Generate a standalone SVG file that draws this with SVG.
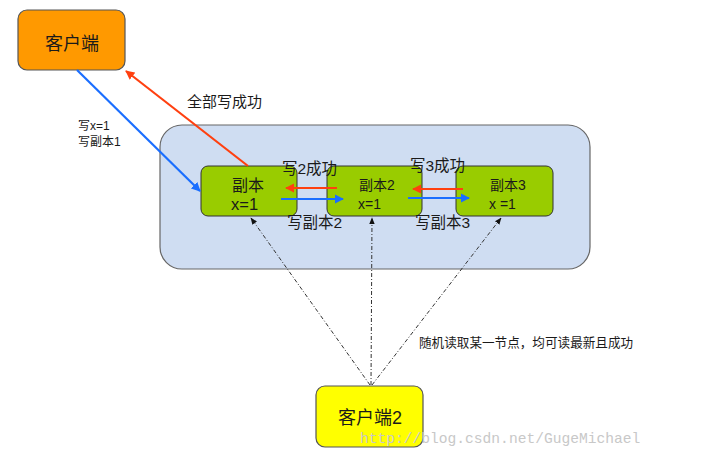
<svg xmlns="http://www.w3.org/2000/svg" width="703" height="463" viewBox="0 0 703 463">
<style>
text{font-family:"Liberation Sans","Noto Sans CJK SC",sans-serif;fill:#1a1a1a}
.node{stroke:#555;stroke-width:1.2}
.rep{fill:#99CC00;stroke:#333;stroke-width:1}
.blue{stroke:#1A6EFF;stroke-width:2.2;fill:none}
.red{stroke:#FF4010;stroke-width:2.2;fill:none}
.dd{stroke:#333;stroke-width:1;stroke-dasharray:4 2 1 2;fill:none}
.wm{font-family:"Liberation Mono",monospace;fill:#c8c8c8}
</style>
<defs>
<marker id="ab" viewBox="0 0 10 10" refX="9" refY="5" markerWidth="4.2" markerHeight="4.2" orient="auto" markerUnits="strokeWidth"><path d="M0,0L10,5L0,10z" fill="#1A6EFF"/></marker>
<marker id="ar" viewBox="0 0 10 10" refX="9" refY="5" markerWidth="4.2" markerHeight="4.2" orient="auto" markerUnits="strokeWidth"><path d="M0,0L10,5L0,10z" fill="#FF4010"/></marker>
<marker id="ak" viewBox="0 0 10 10" refX="9" refY="5" markerWidth="7" markerHeight="7" orient="auto" markerUnits="strokeWidth"><path d="M0,1L10,5L0,9z" fill="#111"/></marker>
</defs>
<rect width="703" height="463" fill="#fff"/>
<g id="cluster">
<rect x="160" y="125" width="430" height="144" rx="22" fill="#CFDDF2" stroke="#666" stroke-width="1.2"/>
</g>
<g id="client">
<rect class="node" x="18" y="10" width="107" height="60" rx="9" fill="#FF9900"/>
<text x="72" y="50" font-size="18" text-anchor="middle">客户端</text>
</g>
<g id="replica1">
<rect class="rep" x="201" y="166" width="96" height="50" rx="7"/>
<text x="232" y="191" font-size="16">副本</text>
<text x="231" y="210" font-size="16.5">x=1</text>
</g>
<g id="replica2">
<rect class="rep" x="327" y="166" width="95" height="50" rx="7"/>
<text x="359" y="190" font-size="14">副本2</text>
<text x="358" y="209" font-size="14">x=1</text>
</g>
<g id="replica3">
<rect class="rep" x="456" y="166" width="97" height="50" rx="7"/>
<text x="490" y="190" font-size="14">副本3</text>
<text x="489" y="209" font-size="14">x =1</text>
</g>
<g id="client2">
<rect class="node" x="316" y="386" width="107" height="61" rx="9" fill="#FFFF00"/>
<text x="370" y="424" font-size="18" text-anchor="middle">客户端2</text>
</g>
<g id="connectors">
<line class="blue" x1="77" y1="70" x2="200" y2="191" marker-end="url(#ab)"/>
<line class="red" x1="248" y1="166" x2="126" y2="71" marker-end="url(#ar)"/>
<line class="red" x1="337" y1="188" x2="286" y2="188" marker-end="url(#ar)"/>
<line class="blue" x1="281" y1="199" x2="343" y2="199" marker-end="url(#ab)"/>
<line class="red" x1="463" y1="189" x2="413" y2="189" marker-end="url(#ar)"/>
<line class="blue" x1="408" y1="198" x2="469" y2="198" marker-end="url(#ab)"/>
<line class="dd" x1="370" y1="385" x2="251" y2="218" marker-end="url(#ak)"/>
<line class="dd" x1="371" y1="385" x2="372" y2="218" marker-end="url(#ak)"/>
<line class="dd" x1="372" y1="385" x2="501" y2="218" marker-end="url(#ak)"/>
</g>
<g id="labels">
<text x="187" y="107" font-size="15">全部写成功</text>
<text x="78" y="130" font-size="12">写x=1</text>
<text x="78" y="146" font-size="12">写副本1</text>
<text x="282" y="174" font-size="15.5">写2成功</text>
<text x="410" y="171" font-size="15.5">写3成功</text>
<text x="287" y="228" font-size="15.5">写副本2</text>
<text x="415" y="228" font-size="15.5">写副本3</text>
<text x="419" y="347" font-size="12.6">随机读取某一节点，均可读最新且成功</text>
</g>
<text class="wm" x="360" y="443" font-size="14.6">http://blog.csdn.net/GugeMichael</text>
</svg>
